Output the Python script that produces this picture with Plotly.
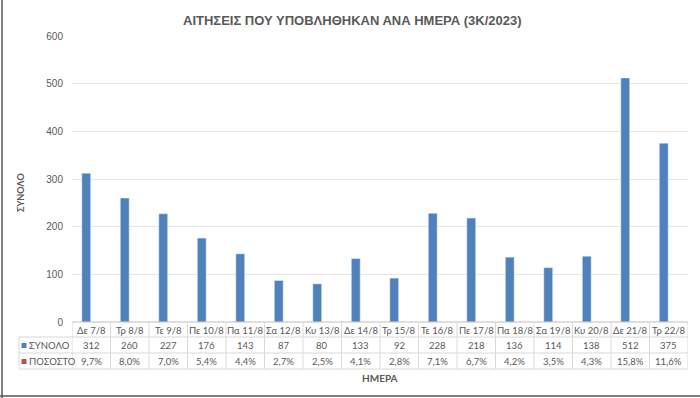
import plotly.graph_objects as go

days = ["Δε 7/8", "Τρ 8/8", "Τε 9/8", "Πε 10/8", "Πα 11/8", "Σα 12/8", "Κυ 13/8", "Δε 14/8",
        "Τρ 15/8", "Τε 16/8", "Πε 17/8", "Πα 18/8", "Σα 19/8", "Κυ 20/8", "Δε 21/8", "Τρ 22/8"]
totals = [312, 260, 227, 176, 143, 87, 80, 133, 92, 228, 218, 136, 114, 138, 512, 375]
percents = [9.7, 8.0, 7.0, 5.4, 4.4, 2.7, 2.5, 4.1, 2.8, 7.1, 6.7, 4.2, 3.5, 4.3, 15.8, 11.6]
y_ticks = [0, 100, 200, 300, 400, 500, 600]

W, H = 700, 398
ML, MR, MT, MB = 72, 12, 36, 76
PW, PH = W - ML - MR, H - MT - MB
Y0 = H - MB  # pixel of y=0

BLUE = "#4f81bd"
RED = "#c0504d"
TXT = "#595959"
GRID = "#d9d9d9"
FONT = "Liberation Sans, Arial"
TFONT = "Lato, Liberation Sans"


def py(p):
    return (Y0 - p) / PH


def px(p):
    return (p - ML) / PW


n = len(days)
xs = list(range(n))

fig = go.Figure()
fig.add_trace(go.Bar(x=xs, y=totals, marker_color=BLUE, width=0.23, offset=-0.245,
                     showlegend=False, hoverinfo="skip"))

shapes = []
annos = []
# table horizontal lines
for p in (Y0, 337, 353, 369):
    x0 = px(19) if p != Y0 else 0
    shapes.append(dict(type="line", xref="paper", yref="paper", x0=x0, x1=1, y0=py(p), y1=py(p),
                       line=dict(color=GRID if p != Y0 else "#bfbfbf", width=1)))
# vertical lines
for i in range(n + 1):
    shapes.append(dict(type="line", xref="x", yref="paper", x0=i - 0.5, x1=i - 0.5, y0=py(Y0), y1=py(369),
                       line=dict(color=GRID, width=1)))
shapes.append(dict(type="line", xref="paper", yref="paper", x0=px(19), x1=px(19), y0=py(337), y1=py(369),
                   line=dict(color=GRID, width=1)))
# legend keys
for yc, col in ((345.5, BLUE), (361.5, RED)):
    shapes.append(dict(type="rect", xref="paper", yref="paper", x0=px(21.5), x1=px(26.5),
                       y0=py(yc + 2.5), y1=py(yc - 2.5), fillcolor=col, line=dict(width=0)))
# frame (left and bottom)
shapes.append(dict(type="line", xref="paper", yref="paper", x0=px(2), x1=px(2), y0=py(0), y1=py(H),
                   line=dict(color="#555555", width=1.5)))
shapes.append(dict(type="line", xref="paper", yref="paper", x0=px(0), x1=px(W), y0=py(396), y1=py(396),
                   line=dict(color="#555555", width=1.5)))

tfont = dict(family=TFONT, size=9.5, color=TXT)
common = dict(showarrow=False, xanchor="center", yanchor="middle")
for i in range(n):
    annos.append(dict(x=i, y=py(330), xref="x", yref="paper", text=days[i], font=tfont, **common))
    annos.append(dict(x=i, y=py(345.5), xref="x", yref="paper", text=str(totals[i]), font=tfont, **common))
    annos.append(dict(x=i, y=py(361.5), xref="x", yref="paper",
                      text=f"{percents[i]:.1f}".replace(".", ",") + "%", font=tfont, **common))
annos.append(dict(x=px(27), y=py(345.5), xref="paper", yref="paper", xanchor="left", yanchor="middle",
                  text="ΣΥΝΟΛΟ", showarrow=False, font=tfont))
annos.append(dict(x=px(27), y=py(361.5), xref="paper", yref="paper", xanchor="left", yanchor="middle",
                  text="ΠΟΣΟΣΤΟ", showarrow=False, font=tfont))
annos.append(dict(x=0.5, y=py(378), xref="paper", yref="paper", text="<b>ΗΜΕΡΑ</b>",
                  font=dict(family=TFONT, size=10, color=TXT), **common))
annos.append(dict(x=px(20), y=py(193), xref="paper", yref="paper", text="<b>ΣΥΝΟΛΟ</b>",
                  textangle=-90, font=dict(family=TFONT, size=9, color=TXT), **common))
annos.append(dict(x=px(352), y=py(21), xref="paper", yref="paper",
                  text="<b>ΑΙΤΗΣΕΙΣ ΠΟΥ ΥΠΟΒΛΗΘΗΚΑΝ ΑΝΑ ΗΜΕΡΑ (3Κ/2023)</b>",
                  font=dict(family=FONT, size=13, color=TXT), **common))

fig.update_layout(
    width=W, height=H, margin=dict(l=ML, r=MR, t=MT, b=MB),
    paper_bgcolor="white", plot_bgcolor="white",
    xaxis=dict(range=[-0.5, n - 0.5], showticklabels=False, showgrid=False, zeroline=False, ticks=""),
    yaxis=dict(range=[0, 600], tickvals=y_ticks, showgrid=True, gridcolor="#e6e6e6", zeroline=False,
               tickfont=dict(family=FONT, size=10, color=TXT), ticks="", ticklabelstandoff=8),
    shapes=shapes, annotations=annos,
)

fig.write_html("out.html", config={"displayModeBar": False},
               post_script="document.body.style.margin='0';document.body.style.overflow='hidden';")
